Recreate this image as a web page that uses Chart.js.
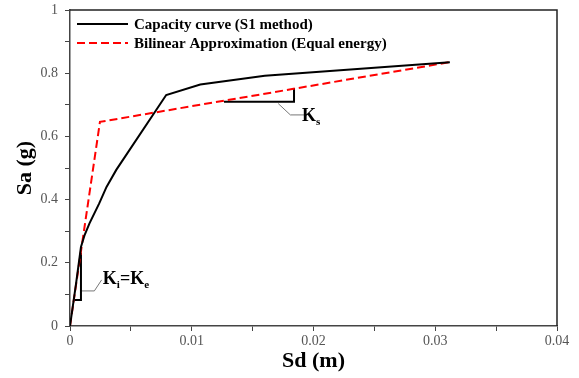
<!DOCTYPE html>
<html>
<head>
<meta charset="utf-8">
<script src="https://cdn.jsdelivr.net/npm/chart.js@4/dist/chart.umd.min.js"></script>
<style>
  html, body { margin: 0; padding: 0; background: #fff; }
  #wrap { width: 579px; height: 378px; position: relative; }
</style>
</head>
<body>
<div id="wrap"><canvas id="pushover"></canvas></div>
<script>
// capacity curve from the S1 method (Sd in m, Sa in g)
const capacitySd = [0, 0.0005, 0.0009, 0.0012, 0.0016, 0.0024, 0.0030, 0.0038, 0.0079, 0.0107, 0.0160, 0.0312];
const capacitySa = [0, 0.135, 0.250, 0.288, 0.325, 0.388, 0.440, 0.494, 0.731, 0.764, 0.792, 0.835];

// equal-energy bilinear idealisation
const bilinearSd = [0, 0.00246, 0.0312];
const bilinearSa = [0, 0.646, 0.835];

// stiffness triangles
const kiTriSd = [0.00035, 0.0009, 0.0009];
const kiTriSa = [0.082, 0.082, 0.232];
const ksTriSd = [0.01265, 0.0184, 0.0184];
const ksTriSa = [0.710, 0.710, 0.753];

// leader lines for the stiffness labels
const kiLeadSd = [0.0009, 0.0020, 0.0026];
const kiLeadSa = [0.111, 0.111, 0.146];
const ksLeadSd = [0.0171, 0.0181, 0.0193];
const ksLeadSa = [0.704, 0.668, 0.668];

const xTicks = [0, 0.01, 0.02, 0.03, 0.04];
const yTicks = [0, 0.2, 0.4, 0.6, 0.8, 1];

const serif = "'Liberation Serif', 'Times New Roman', serif";

function toPoints(xs, ys) {
    return xs.map((x, i) => ({ x: x, y: ys[i] }));
}

function isMajor(v, list) {
    return list.some(t => Math.abs(t - v) < 1e-9);
}

function lineSet(label, xs, ys, color, width, dash) {
    return {
        label: label,
        data: toPoints(xs, ys),
        showLine: true,
        borderColor: color,
        backgroundColor: color,
        borderWidth: width,
        borderDash: dash || [],
        pointRadius: 0,
        tension: 0,
        fill: false
    };
}

// frame, in-plot legend and subscripted K labels
const decorations = {
    id: 'decorations',
    afterDatasetsDraw(chart) {
        const { ctx, chartArea: a, scales: { x, y } } = chart;
        ctx.save();

        // top and right border
        ctx.strokeStyle = '#222';
        ctx.lineWidth = 1.5;
        ctx.beginPath();
        ctx.moveTo(a.left, a.top);
        ctx.lineTo(a.right, a.top);
        ctx.lineTo(a.right, a.bottom);
        ctx.stroke();

        // legend
        const items = chart.data.datasets.slice(0, 2);
        items.forEach((ds, i) => {
            const yy = a.top + 14 + i * 19;
            ctx.strokeStyle = ds.borderColor;
            ctx.lineWidth = 2;
            ctx.setLineDash(ds.borderDash);
            ctx.beginPath();
            ctx.moveTo(a.left + 7, yy);
            ctx.lineTo(a.left + 58, yy);
            ctx.stroke();
            ctx.setLineDash([]);
            ctx.fillStyle = '#000';
            ctx.font = 'bold 15px ' + serif;
            ctx.textBaseline = 'middle';
            ctx.textAlign = 'left';
            ctx.fillText(ds.label, a.left + 64, yy + 1);
        });

        // K labels
        function kLabel(sd, sa, parts) {
            let px = x.getPixelForValue(sd);
            const py = y.getPixelForValue(sa);
            ctx.textBaseline = 'alphabetic';
            ctx.textAlign = 'left';
            parts.forEach(p => {
                ctx.font = 'bold ' + p.size + 'px ' + serif;
                ctx.fillText(p.t, px, py + p.dy);
                px += ctx.measureText(p.t).width;
            });
        }
        ctx.fillStyle = '#000';
        kLabel(0.0027, 0.133, [
            { t: 'K', size: 18, dy: 0 }, { t: 'i', size: 11, dy: 4 },
            { t: '=', size: 18, dy: 0 },
            { t: 'K', size: 18, dy: 0 }, { t: 'e', size: 11, dy: 4 }
        ]);
        kLabel(0.01906, 0.649, [
            { t: 'K', size: 18, dy: 0 }, { t: 's', size: 11, dy: 4 }
        ]);

        ctx.restore();
    }
};

new Chart(document.getElementById('pushover'), {
    type: 'scatter',
    data: {
        datasets: [
            lineSet('Capacity curve (S1 method)', capacitySd, capacitySa, '#000', 2),
            lineSet('Bilinear Approximation (Equal energy)', bilinearSd, bilinearSa, '#ff0000', 2, [8, 4]),
            lineSet('Ki triangle', kiTriSd, kiTriSa, '#000', 2),
            lineSet('Ks triangle', ksTriSd, ksTriSa, '#000', 2),
            lineSet('Ki leader', kiLeadSd, kiLeadSa, '#777', 1),
            lineSet('Ks leader', ksLeadSd, ksLeadSa, '#777', 1)
        ]
    },
    options: {
        responsive: true,
        maintainAspectRatio: false,
        animation: false,
        layout: { padding: { left: 0, right: 22, top: 10, bottom: 0 } },
        plugins: {
            legend: { display: false },
            tooltip: { enabled: false }
        },
        scales: {
            x: {
                type: 'linear',
                min: 0,
                max: 0.04,
                afterFit: s => {
                    s.height = 52;
                    s.paddingLeft = 0;
                    s.paddingRight = 0;
                },
                border: { display: true, color: '#444', width: 1.5 },
                grid: { drawOnChartArea: false, drawTicks: true, tickLength: 5, color: '#444' },
                ticks: {
                    stepSize: 0.005,
                    color: '#555',
                    font: { family: serif, size: 14 },
                    padding: 2,
                    maxRotation: 0,
                    autoSkip: false,
                    callback: v => isMajor(v, xTicks) ? String(+v.toFixed(2)) : ''
                },
                title: {
                    display: true,
                    text: 'Sd (m)',
                    color: '#000',
                    font: { family: serif, size: 22, weight: 'bold' },
                    padding: { top: 0, bottom: 3 }
                }
            },
            y: {
                type: 'linear',
                min: 0,
                max: 1,
                afterFit: s => {
                    s.width = 70;
                    s.paddingTop = 0;
                    s.paddingBottom = 0;
                },
                border: { display: true, color: '#444', width: 1.5 },
                grid: { drawOnChartArea: false, drawTicks: true, tickLength: 5, color: '#444' },
                ticks: {
                    stepSize: 0.1,
                    color: '#555',
                    font: { family: serif, size: 14 },
                    padding: 7,
                    autoSkip: false,
                    callback: v => isMajor(v, yTicks) ? String(+v.toFixed(1)) : ''
                },
                title: {
                    display: true,
                    text: 'Sa (g)',
                    color: '#000',
                    font: { family: serif, size: 22, weight: 'bold' },
                    padding: { top: 12, bottom: 0 }
                }
            }
        }
    },
    plugins: [decorations]
});
</script>
</body>
</html>
